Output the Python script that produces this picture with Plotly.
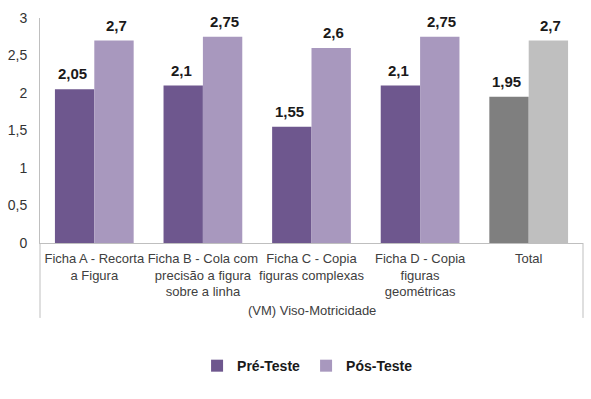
import plotly.graph_objects as go

categories = ["Ficha A - Recorta<br>a Figura",
              "Ficha B - Cola com<br>precisão a figura<br>sobre a linha",
              "Ficha C - Copia<br>figuras complexas",
              "Ficha D - Copia<br>figuras<br>geométricas",
              "Total"]
pre_values = [2.05, 2.1, 1.55, 2.1, 1.95]
post_values = [2.7, 2.75, 2.6, 2.75, 2.7]
pre_colors = ["#6E578E", "#6E578E", "#6E578E", "#6E578E", "#7F7F7F"]
post_colors = ["#A898BE", "#A898BE", "#A898BE", "#A898BE", "#BFBFBF"]
y_ticks = [0, 0.5, 1, 1.5, 2, 2.5, 3]
group_title = "(VM) Viso-Motricidade"

def fmt(v):
    return ("%g" % v).replace(".", ",")

fig = go.Figure()
fig.add_trace(go.Bar(name="<b>Pré-Teste</b>", x=categories, y=pre_values,
                     marker=dict(color=pre_colors, line=dict(width=0))))
fig.add_trace(go.Bar(name="<b>Pós-Teste</b>", x=categories, y=post_values,
                     marker=dict(color=post_colors, line=dict(width=0))))

annotations = []
for vals, off in ((pre_values, -0.2), (post_values, 0.2)):
    for i, v in enumerate(vals):
        annotations.append(dict(x=i + off, y=v, xref="x", yref="y", text="<b>%s</b>" % fmt(v),
                                showarrow=False, yanchor="bottom", yshift=5,
                                font=dict(family="Liberation Sans, Arial", size=15, color="#1a1a1a")))
annotations.append(dict(x=0.5, y=-0.302, xref="paper", yref="paper", text=group_title,
                        showarrow=False, yanchor="middle",
                        font=dict(family="Liberation Sans, Arial", size=13, color="#404040")))

line_col = "#BFBFBF"
shapes = [
    dict(type="line", xref="paper", yref="paper", x0=0, x1=0, y0=0, y1=-0.333,
         line=dict(color=line_col, width=1)),
    dict(type="line", xref="paper", yref="paper", x0=1, x1=1, y0=0, y1=-0.333,
         line=dict(color=line_col, width=1)),
]

fig.update_layout(
    width=591, height=399,
    margin=dict(l=37, r=8, t=18, b=156),
    paper_bgcolor="white", plot_bgcolor="white",
    barmode="group", bargap=0.275, bargroupgap=0,
    separators=", ",
    font=dict(family="Liberation Sans, Arial", color="#404040"),
    xaxis=dict(showline=True, linecolor=line_col, linewidth=1, showgrid=False,
               ticks="outside", ticklen=3, tickcolor="rgba(0,0,0,0)",
               tickfont=dict(size=13, color="#404040"), tickangle=0),
    yaxis=dict(range=[0, 3], tickvals=y_ticks, ticktext=[fmt(t) for t in y_ticks],
               showline=True, linecolor=line_col, linewidth=1, showgrid=False,
               zeroline=False, ticks="outside", ticklen=9, tickcolor="rgba(0,0,0,0)",
               tickfont=dict(size=14, color="#333333")),
    legend=dict(orientation="h", x=0.49, xanchor="center", y=-0.547, yanchor="middle",
                font=dict(size=14, color="#1a1a1a", family="Liberation Sans, Arial"),
                itemwidth=30, entrywidth=64, entrywidthmode="pixels", traceorder="normal"),
    annotations=annotations,
    shapes=shapes,
)
fig.write_html("out.html")
